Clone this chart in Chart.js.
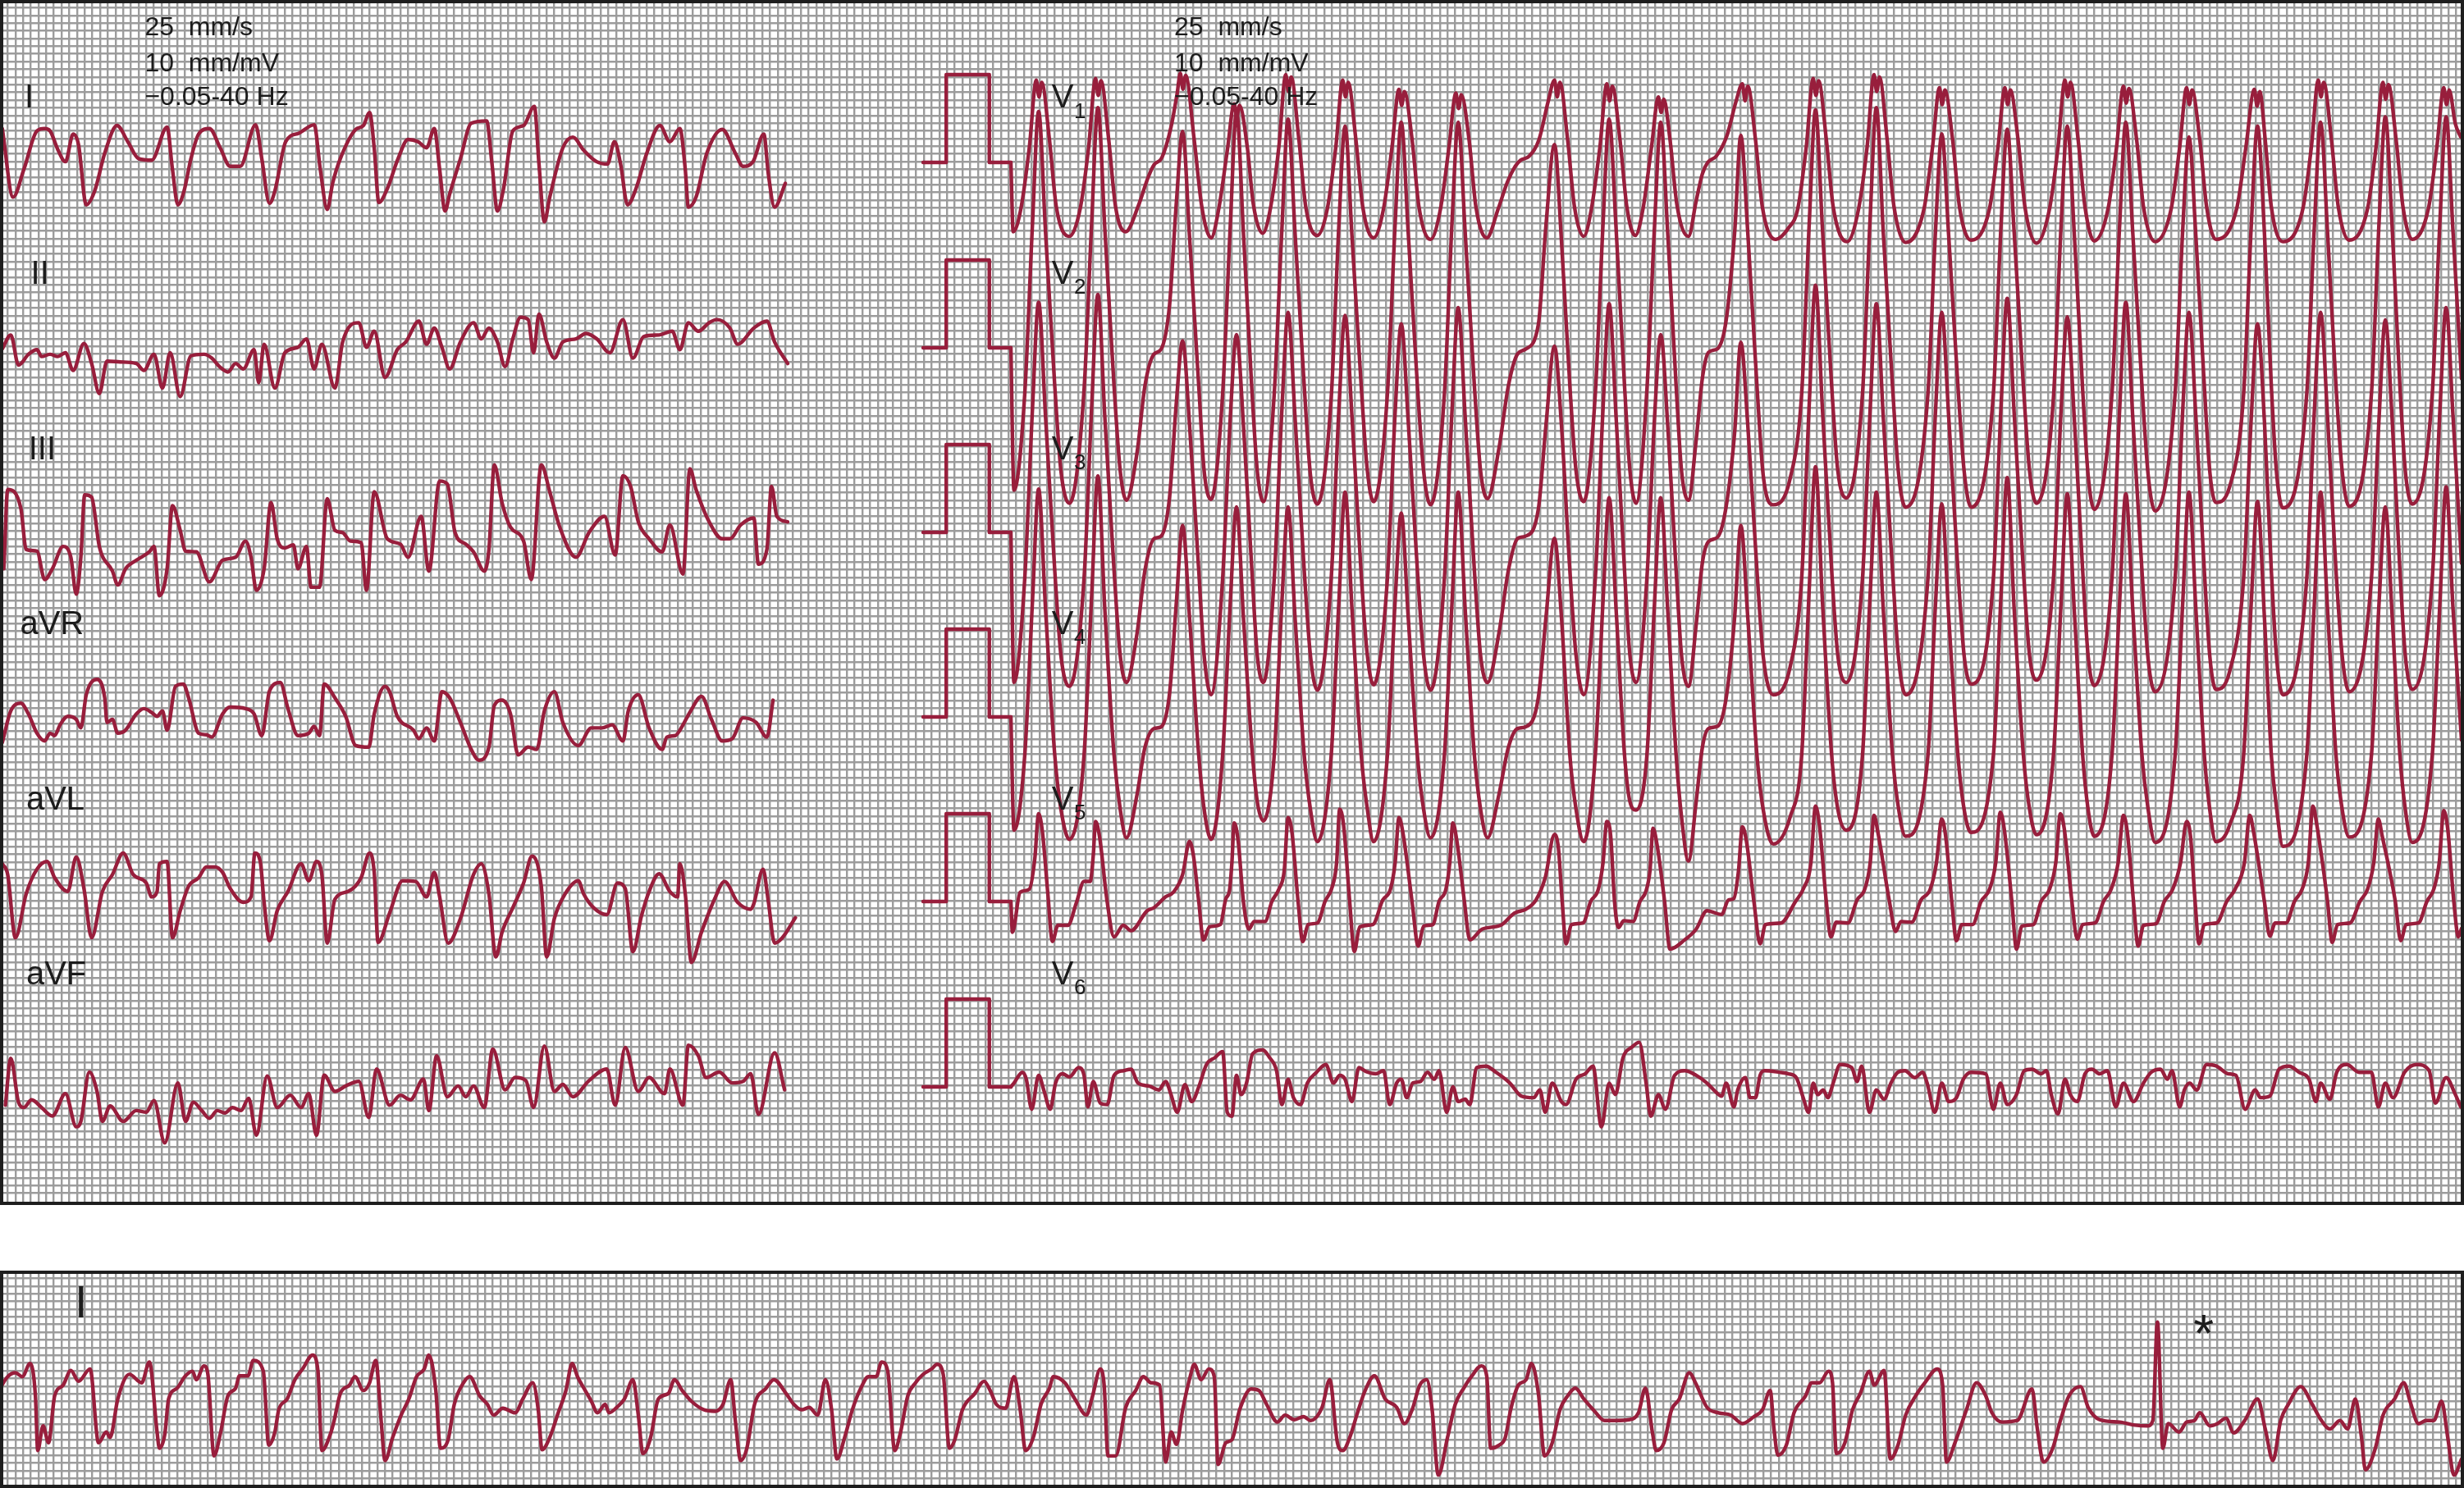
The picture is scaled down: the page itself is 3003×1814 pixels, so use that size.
<!DOCTYPE html>
<html>
<head>
<meta charset="utf-8">
<script src="https://cdn.jsdelivr.net/npm/chart.js@4.4.1/dist/chart.umd.min.js"></script>
<style>
  html, body { margin:0; padding:0; background:#fff; }
  body { width:3003px; height:1814px; position:relative; overflow:hidden; }
  .panel { position:absolute; left:0; width:3003px; }
  .panel canvas { position:absolute; left:0; top:0; }
  .frame { position:absolute; left:0; top:0; right:0; bottom:0; border:4px solid #1e1e1e; box-sizing:border-box; pointer-events:none; }
  #top { top:0; height:1469px; }
  #bottom { top:1549px; height:265px; }
</style>
</head>
<body>
<div class="panel" id="top"><canvas id="ecgTop" width="3003" height="1469"></canvas><div class="frame"></div></div>
<div class="panel" id="bottom"><canvas id="ecgBottom" width="3003" height="265"></canvas><div class="frame"></div></div>
<script>
// values: [time in mm from strip start, deflection in mm]
// 1 small box = 1 mm, speed 25 mm/s

const limbNames = ['I', 'II', 'III', 'aVR', 'aVL', 'aVF']
const chestNames = ['1', '2', '3', '4', '5', '6']
const settings = ['25  mm/s', '10  mm/mV', '\u22120.05-40 Hz']

const leadI = [[0.3,4.6],[1.7,-4.3],[3.1,-0.7],[4.8,4.3],[5.8,4.6],[6.5,4.3],[7.5,1.9],[8.5,0.3],[9.5,3.9],[10.2,2.5],[11.2,-5.3],[12.3,-3.5],[13.6,1.4],[15.2,5.0],[16.6,2.9],[18.0,0.7],[19.7,0.5],[21.7,4.8],[22.4,-0.7],[23.1,-5.3],[23.9,-3.5],[24.8,0.7],[25.8,3.9],[27.2,4.6],[28.6,2.1],[29.9,-0.3],[31.2,-0.3],[33.2,5.1],[34.0,0.7],[35.0,-5.1],[35.7,-3.5],[37.1,2.9],[38.8,4.0],[40.8,5.1],[41.6,-0.7],[42.5,-5.9],[43.2,-2.5],[44.2,0.7],[46.2,4.5],[47.2,5.0],[48.0,6.7],[48.6,2.1],[49.2,-5.0],[50.3,-3.2],[51.7,0.7],[53.0,3.2],[54.3,2.9],[55.4,2.1],[56.4,4.6],[57.1,-0.7],[57.8,-6.1],[58.4,-3.9],[59.8,0.7],[61.2,5.3],[63.2,5.6],[63.9,0],[64.6,-6.1],[65.4,-3.2],[66.6,4.3],[68.0,5.0],[69.4,7.5],[70.0,0],[70.7,-7.5],[71.4,-4.3],[73.1,2.1],[74.4,3.5],[75.8,1.8],[77.5,0.3],[78.9,0],[79.8,2.9],[80.6,0],[81.5,-5.3],[82.6,-3.2],[84.0,1.4],[85.7,5.0],[87.0,2.9],[88.3,4.6],[89.0,-0.7],[89.4,-5.6],[90.4,-4.3],[91.8,1.4],[93.8,4.5],[95.5,1.4],[96.5,-0.3],[97.8,0.3],[99.2,3.9],[99.8,-1.4],[100.6,-5.6],[102.0,-2.5]]

const leadII = [[0.3,0.5],[1.4,2.3],[2.4,-1.6],[3.7,-0.2],[4.8,0.4],[5.4,-0.5],[6.5,-0.2],[7.5,-0.5],[8.5,0],[9.5,-2.3],[10.9,1.2],[11.9,-1.4],[12.9,-5.3],[13.9,-1.1],[15.6,-1.2],[17.7,-1.4],[18.7,-2.3],[20.0,-0.2],[21.1,-4.6],[22.1,0],[23.4,-5.7],[24.8,-0.4],[26.5,-0.2],[27.5,-0.7],[28.5,-1.8],[29.6,-2.5],[30.6,-1.4],[31.6,-2.1],[33.0,0.4],[33.6,-3.9],[34.3,1.1],[35.7,-4.6],[37.0,0],[38.7,0.7],[39.8,1.8],[40.8,-2.1],[41.8,1.1],[43.5,-4.6],[44.5,1.4],[46.6,3.9],[47.6,0.7],[48.6,2.8],[50.0,-3.2],[51.6,0.4],[52.7,1.4],[54.4,4.1],[55.4,1.1],[56.4,3.2],[57.4,0.7],[58.4,-2.1],[59.8,1.4],[61.5,3.9],[62.5,1.8],[63.5,3.2],[64.6,1.4],[65.6,-1.8],[66.6,1.8],[67.6,4.6],[68.6,4.3],[69.3,0],[70.0,5.0],[71.0,1.4],[72.0,-0.7],[73.1,1.4],[74.8,1.8],[76.1,2.5],[77.5,1.8],[79.2,0],[80.9,4.3],[82.2,-0.7],[83.6,2.1],[85.6,2.3],[87.3,2.8],[88.3,0.4],[89.4,3.9],[90.7,2.8],[92.1,3.9],[93.1,4.3],[94.8,3.2],[95.8,1.1],[97.9,3.2],[99.6,4.1],[100.6,1.4],[102.3,-1.4]]

const leadIII = [[0.5,-4.3],[1.0,6.0],[2.7,3.6],[3.4,-1.8],[4.8,-2.0],[5.8,-5.7],[6.8,-4.3],[8.2,-1.4],[9.2,-2.8],[9.9,-7.6],[10.5,-2.8],[11.0,5.3],[11.9,5.0],[12.9,-1.4],[14.6,-4.6],[15.3,-6.4],[16.3,-4.3],[17.7,-3.2],[19.4,-2.1],[20.0,-1.4],[20.7,-7.8],[21.7,-4.3],[22.4,3.9],[23.4,0.7],[24.1,-2.0],[25.5,-2.1],[27.2,-6.0],[28.9,-3.2],[30.6,-2.8],[31.9,-0.7],[32.6,-2.8],[33.3,-7.1],[34.3,-4.3],[35.2,4.3],[36.0,-0.4],[37.0,-1.6],[38.1,-1.2],[38.7,-4.3],[39.8,-1.4],[40.4,-6.7],[41.5,-6.7],[42.5,4.8],[43.5,0.7],[44.5,0.4],[45.5,-0.7],[46.9,-0.9],[47.6,-7.1],[48.6,5.7],[50.3,-0.4],[52.0,-1.1],[53.0,-2.8],[54.7,2.5],[55.7,-4.6],[57.1,7.1],[58.1,6.7],[59.1,0.4],[60.5,-1.1],[61.5,-2.1],[62.9,-4.6],[63.5,-1.8],[64.2,9.2],[65.2,4.3],[66.3,1.1],[68.0,-0.7],[69.0,-5.7],[70.3,9.2],[71.4,5.7],[72.7,1.1],[74.8,-2.8],[76.5,0.4],[78.5,2.5],[79.9,-2.5],[80.9,7.8],[81.9,6.4],[82.9,1.8],[84.3,-0.4],[86.0,-2.1],[87.0,1.4],[88.7,-5.0],[89.6,8.7],[90.4,6.0],[92.1,1.8],[93.8,-0.4],[94.8,-0.4],[96.2,1.4],[97.9,2.3],[98.5,-3.7],[99.6,-1.8],[100.2,6.4],[100.9,2.5],[102.3,1.8]]

const leadAVR = [[0.3,-3.0],[1.4,1.1],[2.7,2.1],[3.7,0.7],[4.8,-1.8],[5.8,-2.8],[6.5,-1.8],[7.1,-2.1],[7.8,-0.7],[8.8,0.4],[9.9,0],[10.5,-1.1],[11.2,3.2],[12.6,5.2],[13.6,2.8],[13.9,-0.4],[14.6,0],[15.3,-1.8],[16.3,-1.4],[17.7,0.7],[18.7,1.4],[19.7,0.9],[20.4,0.4],[21.1,1.1],[21.7,-1.4],[22.8,4.3],[23.8,4.6],[24.5,2.8],[25.8,-1.8],[26.8,-2.0],[27.5,-2.3],[28.9,0.7],[29.9,1.6],[31.9,1.4],[33.0,0.7],[34.0,-2.1],[35.0,3.7],[36.4,4.8],[37.4,1.4],[38.7,-2.1],[40.1,-1.8],[40.8,-0.9],[41.5,-2.1],[42.1,4.6],[43.5,2.8],[44.9,0.4],[46.2,-3.4],[47.9,-3.6],[48.6,0.7],[50.0,4.3],[50.6,3.6],[51.6,0.4],[53.7,-1.4],[54.4,-2.5],[55.4,-1.1],[56.4,-2.8],[57.4,3.6],[58.4,2.8],[59.8,-0.4],[61.2,-3.9],[62.2,-5.3],[63.5,-3.6],[64.2,1.8],[65.2,2.5],[66.3,0.7],[67.3,-4.6],[68.6,-3.6],[69.7,-3.9],[70.7,1.1],[72.0,3.6],[73.1,-0.4],[75.1,-3.4],[76.8,-1.1],[78.2,-1.1],[79.5,-0.7],[80.9,-2.8],[81.6,1.1],[82.9,3.2],[84.3,-1.1],[86.0,-3.9],[86.6,-2.3],[87.7,-2.1],[88.3,-1.4],[89.7,1.1],[91.1,3.0],[92.4,0],[93.8,-2.8],[95.1,-2.5],[96.5,0.2],[98.2,-0.4],[99.6,-2.3],[100.4,2.5]]

const leadAVL = [[0.3,5.0],[1.0,3.6],[2.0,-4.6],[3.4,1.1],[4.8,4.3],[6.1,5.3],[7.1,3.2],[8.8,1.4],[9.9,5.9],[10.9,1.8],[11.9,-4.6],[13.3,1.4],[14.6,3.6],[16.0,6.4],[17.3,3.6],[19.0,2.5],[19.7,0.7],[20.4,1.4],[20.7,5.0],[21.7,5.3],[22.4,-4.6],[23.4,-1.1],[24.5,2.1],[25.8,3.2],[26.8,4.6],[27.9,4.6],[28.9,3.9],[29.9,1.8],[31.6,0],[32.6,0.7],[33.1,6.4],[33.8,5.3],[34.3,0],[35.0,-5.0],[36.0,-1.1],[37.4,1.4],[39.1,5.0],[40.1,2.8],[41.1,5.3],[41.8,3.6],[42.5,-5.3],[43.5,0.4],[45.2,1.4],[46.9,3.2],[48.0,6.4],[48.6,3.9],[49.1,-5.2],[50.6,-1.4],[52.3,2.8],[54.0,2.7],[55.4,0.7],[56.4,3.9],[57.1,0.7],[58.2,-5.3],[59.8,-2.1],[61.5,3.6],[62.5,5.0],[63.5,1.1],[64.4,-7.1],[65.2,-3.9],[66.6,-0.7],[68.0,2.5],[69.1,6.0],[70.3,2.1],[71.0,-7.1],[72.0,-2.1],[73.4,1.1],[75.1,2.8],[75.8,1.1],[77.1,-0.7],[78.8,-1.6],[80.2,2.5],[81.2,1.8],[82.2,-6.4],[83.3,-1.8],[84.3,1.4],[85.6,3.7],[87.0,1.4],[88.0,0.7],[88.3,5.0],[89.0,1.1],[89.8,-7.8],[91.1,-3.9],[92.8,0.4],[94.1,2.7],[95.8,0],[97.5,-0.9],[97.9,-0.2],[99.1,4.3],[99.8,0],[100.6,-5.3],[101.6,-4.6],[103.3,-2.0]]

const leadAVF = [[0.7,-1.1],[1.4,5.0],[2.4,-0.7],[3.1,-1.4],[4.1,-0.4],[5.4,-1.4],[6.8,-2.5],[8.5,0.4],[9.9,-3.9],[10.5,-3.2],[11.6,3.2],[12.6,0.7],[13.3,-3.2],[14.3,-1.2],[16.0,-3.2],[17.7,-1.8],[19.0,-2.0],[20.0,-0.5],[21.4,-6.0],[23.1,1.8],[24.1,-3.2],[25.1,-0.7],[26.2,-1.8],[27.2,-2.8],[28.2,-1.8],[29.2,-2.1],[30.2,-1.4],[31.3,-1.8],[32.3,-0.2],[33.3,-5.0],[34.7,2.7],[36.0,-1.4],[37.7,0.2],[39.1,-1.4],[40.1,0.4],[41.1,-5.0],[42.1,2.8],[43.5,0.7],[44.9,1.4],[46.6,2.0],[47.9,-2.7],[48.9,3.6],[50.6,-1.1],[52.0,0.2],[53.3,-0.4],[55.0,2.3],[55.7,-1.8],[56.7,5.3],[58.1,0],[59.5,1.4],[60.5,0],[61.5,1.4],[62.9,-1.4],[64.0,6.2],[65.6,0.9],[66.9,2.5],[68.3,2.1],[69.3,-1.4],[70.7,6.6],[72.0,0.7],[73.1,1.6],[74.4,0],[76.5,2.1],[78.8,3.6],[79.9,-1.1],[81.2,6.4],[82.9,0.7],[84.3,2.5],[86.3,0.4],[87.0,3.6],[88.7,-1.1],[89.4,6.7],[90.7,5.3],[91.7,2.5],[93.4,3.2],[95.1,1.8],[96.5,2.0],[97.5,3.0],[98.5,-2.3],[100.6,5.7],[101.9,0.9]]

// calibration pulse, mV against mm
const calT = [-11.4, -8.4, -8.4, -2.8, -2.8, 0]
const calMv = [0, 0, 1, 1, 0, 0]

const v1 = [[0,0],[0.3,-9.0],
  [1.3,-6],[2.4,2],[3.3,10.7],[3.65,8.5],[4.0,10.4],[5.0,3],[5.9,-5.8],[7.6,-9.6],
  [9.0,-6],[10.1,2],[11.0,10.9],[11.35,8.7],[11.7,10.6],[12.7,3],[13.6,-5.8],[14.9,-9.0],[16.6,-5.5],[17.8,-2],[18.6,-0.3],[19.6,0.6],
  [20.8,4.6],[21.6,9],[22.0,11.6],[22.35,9.5],[22.7,11.3],[23.8,3],[24.8,-5.8],[26.0,-9.8],
  [27.0,-6],[28.1,1.5],[29.0,7.6],[29.35,6],[29.7,7.4],[30.7,2],[31.5,-5.5],[32.7,-9.2],
  [33.7,-6],[34.8,2],[35.7,11.4],[36.05,9.2],[36.4,11.1],[37.4,3],[38.3,-5.8],[39.8,-9.5],
  [41.1,-6],[42.2,2],[43.1,10.7],[43.45,8.5],[43.8,10.4],[44.8,3],[45.7,-5.8],[47.1,-9.8],
  [48.4,-6],[49.5,2],[50.4,9.5],[50.75,7.4],[51.1,9.2],[52.1,3],[53.0,-5.8],[54.5,-10.0],
  [55.8,-6],[56.9,2],[57.8,9.0],[58.15,7],[58.5,8.8],[59.5,3],[60.4,-5.8],[61.8,-9.8],[63.3,-6],[64.5,-2.5],[65.5,-0.5],[66.2,0.3],[67.3,0.8],
  [68.6,3],[69.8,8],[70.6,10.7],[70.95,8.5],[71.3,10.4],[72.3,3],[73.2,-5.8],[74.4,-9.6],
  [75.4,-6],[76.5,2],[77.4,10.2],[77.75,8],[78.1,9.9],[79.1,3],[80.0,-5.8],[81.1,-9.5],
  [82.1,-6],[83.2,2],[84.1,8.5],[84.45,6.5],[84.8,8.2],[85.6,3],[86.5,-5.5],[88.0,-9.6],[89.0,-5],[89.8,-1.5],[90.5,0],[91.6,0.8],
  [93.0,3.5],[94.2,8],[95.0,10.2],[95.35,8],[95.7,9.9],[96.7,3],[97.6,-5.8],[99.3,-10.0],[101.0,-8.5],
  [102.2,-6],[103.3,2],[104.2,10.9],[104.55,8.7],[104.9,10.6],[105.9,3],[106.8,-5.8],[108.6,-10.3],
  [110.1,-6],[111.2,2],[112.1,11.4],[112.45,9.2],[112.8,11.1],[113.8,3],[114.7,-5.8],[116.2,-10.4],
  [118.6,-6],[119.7,2],[120.6,9.7],[120.95,7.5],[121.3,9.4],[122.3,3],[123.2,-5.8],[124.7,-10.1],
  [127.1,-6],[128.2,2],[129.1,9.7],[129.45,7.5],[129.8,9.4],[130.8,3],[131.7,-5.8],[133.2,-10.5],
  [134.9,-6],[136.0,2],[136.9,10.7],[137.25,8.5],[137.6,10.4],[138.6,3],[139.5,-5.8],[140.7,-10.2],
  [142.5,-6],[143.6,2],[144.5,9.9],[144.85,7.7],[145.2,9.6],[146.2,3],[147.1,-5.8],[148.6,-10.3],
  [150.7,-6],[151.8,2],[152.7,9.7],[153.05,7.5],[153.4,9.4],[154.4,3],[155.3,-5.8],[156.5,-10.0],
  [159.2,-6],[160.4,2],[161.5,9.5],[161.85,7.3],[162.2,9.2],[162.9,3],[163.7,-5.8],[165.2,-10.3],
  [167.8,-6],[168.9,2],[169.8,10.7],[170.15,8.5],[170.5,10.4],[171.5,3],[172.4,-5.8],[173.8,-10.1],
  [176.2,-6],[177.3,2],[178.2,10.4],[178.55,8.2],[178.9,10.1],[179.9,3],[180.8,-5.8],[182.0,-10.0],
  [184.1,-6],[185.2,2],[186.1,9.7],[186.45,7.5],[186.8,9.4],[187.6,5],[188.3,3.3]]

// V2-V4 were sampled at the same instants
const vTimes = [0,0.4,
  1.8,2.8,3.6,4.5,5.7,6.5,7.6,
  9.5,10.5,11.3,12.2,13.4,14.2,15.0,16.4,17.4,18.6,19.5,20.6,
  21.5,22.3,23.2,24.4,25.1,26.0,
  27.5,28.5,29.3,30.2,31.3,32.0,32.8,
  34.2,35.2,36.0,36.9,38.1,38.9,39.8,
  41.6,42.6,43.4,44.3,45.5,46.3,47.1,
  48.9,49.9,50.7,51.6,52.8,53.6,54.5,
  56.3,57.3,58.1,59.0,60.2,61.0,61.9,63.4,64.6,65.8,66.8,68.5,
  69.5,70.6,71.5,72.6,73.4,74.4,
  75.9,76.9,77.7,78.6,79.7,80.4,81.2,
  82.6,83.6,84.4,85.3,86.4,87.1,88.0,89.0,89.8,90.6,91.8,92.9,
  94.0,94.8,95.7,96.9,97.7,99.0,101.2,
  102.7,103.7,104.5,105.4,106.6,107.4,108.5,
  110.6,111.6,112.4,113.3,114.5,115.3,116.2,
  119.1,120.1,120.9,121.8,123.0,123.8,124.7,
  127.6,128.6,129.4,130.3,131.5,132.3,133.2,
  135.4,136.4,137.2,138.1,139.2,139.9,140.7,
  143.0,144.0,144.8,145.7,146.9,147.7,148.6,
  151.2,152.2,153.0,153.9,155.0,155.7,156.5,158.3,
  160.1,161.1,161.9,162.8,163.7,164.4,165.2,
  168.3,169.3,170.1,171.0,172.1,172.9,173.8,
  176.7,177.7,178.5,179.4,180.4,181.1,182.0,
  184.6,185.6,186.4,187.3,188.4]

const v2 = [0,-18.5,
  -6,16,30.7,15,-5,-16,-20.2,
  -5.5,16.5,31.2,15.5,-5,-16,-19.8,-13.5,-5,-0.8,-0.2,5.5,
  19,28.1,14.5,-5,-16,-19.7,
  -6,16,30.7,15,-5.5,-16,-20.0,
  -6,15.5,29.7,15,-5,-16.5,-20.3,
  -6.5,16,28.8,14.5,-5,-16,-20.0,
  -6,16,29.3,15,-5,-16,-20.4,
  -6,16.5,29.3,15,-5,-16,-19.6,-13,-5,-0.8,-0.2,3,
  16,26.4,14,-5,-16,-20.0,
  -6,16,29.7,15.5,-5,-16,-20.2,
  -5.5,16,29.3,15,-5,-16,-19.8,-12,-4,-0.6,-0.1,3.6,
  15,27.6,15,-5,-16.5,-20.4,-17,
  -6,16.5,30.9,15.5,-5,-16,-19.5,
  -6,17,31.2,15,-5,-16.5,-20.7,
  -6,15.5,27.8,14.5,-5,-16,-20.7,
  -6,16,28.4,15,-5,-16,-20.2,
  -6.5,16,28.8,15,-5.5,-16.5,-21.0,
  -6,16,29.3,15,-5,-16.5,-21.2,
  -6,15.5,27.4,14.5,-5,-16,-20.1,-18,
  -6,16,28.8,15,-5,-16.5,-20.8,
  -6,16,29.3,15,-5,-16,-20.6,
  -6,16.5,30.0,15.5,-5,-16,-20.3,
  -6,16.5,30.0,15,-4]

const v3 = [0,-19.5,
  -6,16,29.9,15,-5,-16,-20.0,
  -6,16.5,30.9,15,-5,-16,-19.5,-13,-5,-0.8,-0.5,4.5,
  17,24.9,14,-5,-16,-21.1,
  -6,15,25.7,14,-5,-16,-19.5,
  -6,16,28.6,15,-5,-16,-20.5,
  -6,16,28.2,15,-5.5,-16,-19.8,
  -6,15.5,27.1,14.5,-5,-16,-20.5,
  -6,16,29.2,15,-5,-16,-19.5,-13,-5,-0.8,-0.5,3,
  14,24.2,14,-5,-16,-21.1,
  -6,16,29.7,15,-5,-16,-19.5,
  -6,15,25.7,14,-5,-16,-20.0,-12,-4,-1.2,-0.6,3.4,
  13,24.7,14,-5,-16,-21.1,-17.5,
  -6,17,32.1,16,-5,-16,-19.5,
  -6,16,29.7,15,-5,-16.5,-21.1,
  -6,16,28.6,15,-5,-16,-19.7,
  -6,16.5,30.4,15.5,-5,-16,-19.2,
  -6,16,28.0,15,-5,-16,-19.9,
  -6,16,29.9,15,-5,-16.5,-20.7,
  -6,16,28.6,15,-5,-16,-20.4,-18,
  -6,15,27.1,14.5,-5,-16.5,-21.1,
  -6,16,28.6,15,-5,-16,-20.7,
  -6,15,27.6,14.5,-5,-16,-20.4,
  -6,16,29.2,15,-4]

const v4 = [0,-14.7,
  -5,15,29.6,14,-5,-12,-15.9,
  -5,16,31.3,14,-5,-12,-15.7,-10,-4,-1.5,-1.3,3,
  15,24.9,13,-5,-12,-15.9,
  -5,15,27.3,13,-4,-11,-13.5,
  -5,15,27.3,13,-5,-12,-16.2,
  -5,15,29.2,14,-5,-12,-16.2,
  -5,15,26.5,13,-5,-12,-15.7,
  -5,15,29.2,14,-5,-12,-15.7,-10,-4,-1.5,-1.3,2.5,
  13,23.2,13,-5,-12,-16.2,
  -5,15,28.5,14,-5,-11,-12.1,
  -5,15,28.5,14,-5,-13,-18.7,-11,-4,-1.5,-1.2,2.5,
  13,24.9,13,-5,-12,-16.5,-13,
  -5,17,32.5,15,-5,-12,-14.7,
  -5,16,29.2,14,-5,-12,-15.5,
  -5,15,27.7,13,-5,-12,-15.0,
  -5,16,31.1,14,-5,-12,-15.3,
  -5,15,29.0,14,-5,-12,-15.5,
  -5,15,29.0,14,-5,-12,-16.3,
  -5,15,29.2,14,-5,-12,-16.2,-14,
  -5,15,28.0,13,-5,-12,-16.8,
  -5,15,29.2,14,-5,-12,-15.6,
  -5,15,27.3,13,-5,-12,-16.3,
  -5,15,29.9,14,-3]

const v5 = [[0,0],[0.2,-4.0],[1.2,1.2],[2.4,1.6],[3.1,5.5],
  [3.6,11.4],[4.1,9.0],[4.8,1.0],[5.4,-5.2],[6.1,-3.1],[7.4,-3.1],[8.5,-0.2],[9.5,2.6],[10.3,2.6],[10.7,6],
  [11.0,10.4],[11.5,8.5],[12.5,0],[13.4,-4.6],[14.6,-3.1],[15.6,-3.8],[17.7,-1.2],[18.6,-0.8],[20.1,0.6],[21.1,1.2],[22.3,3.5],
  [23.2,7.8],[23.7,6],[24.4,0],[25.0,-5.0],[25.8,-3.3],[27.2,-3.0],[27.9,0.3],[28.4,1.5],[28.7,5],
  [29.0,10.2],[29.5,8],[30.2,0],[30.9,-3.6],[31.6,-2.6],[33.0,-2.6],[33.9,0],[34.8,1.6],[35.5,4],
  [36.0,10.9],[36.5,9],[37.3,0],[37.9,-5.2],[38.6,-3.0],[39.8,-2.8],[40.8,0],[41.7,1.8],[42.3,5],
  [42.7,12.0],[43.2,10],[44.0,0],[44.6,-6.5],[45.3,-3.3],[47.0,-3.0],[48.3,0.2],[49.3,1.6],[49.9,5],
  [50.4,10.9],[50.9,9],[52.1,0],[52.9,-5.8],[53.6,-3.2],[54.8,-3.0],[55.6,0],[56.5,1.6],[57.0,5],
  [57.4,10.2],[57.9,8],[58.9,0],[59.6,-5.0],[61.2,-3.6],[63.6,-3.1],[65.4,-1.5],[66.9,-1.0],[68.2,0.2],[69.4,3.1],
  [70.6,8.7],[71.1,7],[71.6,0],[72.1,-5.5],[72.8,-3.0],[74.3,-2.8],[75.3,0],[76.3,1.6],[76.9,5],
  [77.4,10.4],[77.9,8.5],[78.4,0],[78.9,-3.4],[79.6,-2.5],[80.8,-2.6],[81.7,0],[82.5,1.4],[83.0,4],
  [83.4,9.5],[83.9,7.5],[84.9,0],[85.6,-6.2],[87.5,-5.0],[89.0,-3.6],[90.4,-1.2],[92.3,-1.7],[93.2,0.2],[93.9,0.4],[94.5,4],
  [95.0,9.7],[95.5,8],[96.5,0],[97.3,-5.5],[98.0,-3.0],[100.0,-2.8],[101.9,0],[102.9,1.6],[103.9,5],
  [104.5,12.4],[105.0,10],[105.9,0],[106.5,-4.6],[107.2,-2.7],[108.7,-2.8],[109.9,0.2],[110.9,1.6],[111.6,5],
  [112.1,11.2],[112.6,9],[114.1,0],[114.9,-3.9],[115.6,-2.6],[117.0,-2.7],[118.2,0.2],[119.4,1.6],[120.2,5],
  [120.9,10.7],[121.4,8.5],[122.2,0],[122.8,-5.1],[123.5,-3.0],[124.9,-3.0],[126.0,0],[127.1,1.6],[127.9,5],
  [128.5,11.6],[129.0,9.5],[130.0,0],[130.6,-6.2],[131.3,-3.2],[132.8,-3.0],[133.8,0],[134.9,1.6],[135.7,5],
  [136.3,11.4],[136.8,9.5],[137.8,0],[138.5,-4.9],[139.2,-3.0],[140.8,-2.8],[141.9,0],[142.9,1.6],[143.8,5],
  [144.5,11.2],[145.0,9],[145.8,0],[146.4,-5.8],[147.1,-3.1],[148.7,-2.9],[149.8,0],[150.9,1.6],[151.9,5],
  [152.7,10.4],[153.2,8.5],[153.8,0],[154.3,-5.5],[155.0,-3.0],[156.6,-2.8],[157.9,0],[159.0,1.6],[160.2,5],
  [160.9,11.2],[161.4,9],[162.8,0],[163.5,-4.5],[164.2,-2.8],[165.6,-2.8],[166.7,0],[167.7,1.6],[168.5,5],
  [169.1,12.4],[169.6,10],[171.0,0],[171.6,-5.3],[172.3,-3.0],[173.9,-2.8],[175.2,0],[176.2,1.6],[177.0,5],
  [177.6,10.7],[178.1,8.5],[179.8,0],[180.5,-5.1],[181.2,-3.0],[182.8,-2.8],[183.9,0],[184.8,1.6],[185.5,5],
  [186.1,11.8],[186.6,9.5],[187.4,0],[188.0,-4.6],[188.4,-3.5]]

const v6 = [[0,0],[0.4,0.5],[1.5,1.9],[2.0,1.0],[2.7,-2.9],[3.6,1.5],[4.3,-0.5],[5.1,-2.9],[5.8,0.5],[6.7,1.7],[7.6,1.3],[8.8,2.5],[9.5,1.5],[10.0,-2.6],[10.7,0.7],[11.6,-2.1],[12.5,-2.3],[13.4,1.5],[14.6,2.1],[15.6,2.3],[16.5,0.5],[18.0,0.1],[19.2,-0.4],[20.1,0.7],[20.8,-1.0],[21.6,-3.3],[22.6,0.3],[23.5,-1.9],[24.4,0],[25.4,2.9],[26.5,3.8],[27.5,4.6],[28.1,-3.3],[28.7,-3.8],[29.3,1.5],[29.9,-1.0],[30.6,0.5],[31.4,4.3],[32.7,4.8],[33.6,3.8],[34.5,2.1],[35.2,-2.3],[36.0,1.0],[36.7,-1.4],[37.6,-2.3],[38.5,0.5],[39.7,1.9],[40.9,2.9],[41.9,0.5],[42.7,1.5],[43.4,1.0],[44.3,-1.9],[45.2,2.5],[46.1,2.0],[47.4,1.7],[48.4,2.1],[49.2,-2.3],[50.1,0.5],[50.7,1.0],[51.4,-1.4],[52.2,0.5],[53.2,0.7],[54.1,1.9],[55.0,1.0],[55.6,2.1],[56.6,-3.3],[57.4,0],[58.1,-1.9],[59.0,-1.6],[59.6,-2.3],[60.5,2.5],[61.7,2.7],[63.0,1.9],[64.8,0.5],[66.3,-1.2],[67.9,-1.4],[68.7,-0.4],[69.4,-3.3],[70.3,0.5],[71.5,-1.9],[72.1,-2.3],[73.4,1.0],[74.6,1.7],[75.6,2.7],[76.7,-5.2],[77.7,0.5],[78.5,-1.0],[79.5,3.8],[80.7,5.2],[81.6,5.8],[82.5,0.5],[83.1,-3.8],[84.1,-1.0],[85.0,-2.9],[86.2,1.5],[87.5,2.1],[89.0,1.5],[90.4,0.5],[91.3,-0.4],[92.3,-1.2],[92.9,0.5],[93.9,-2.6],[94.4,-0.4],[95.4,1.2],[96.0,-1.4],[96.7,-1.4],[97.3,1.5],[97.9,2.1],[99.8,1.9],[101.0,1.7],[102.0,1.2],[102.9,-1.4],[103.6,-3.3],[104.2,0.5],[104.8,-1.0],[105.5,-0.4],[106.1,-1.4],[106.8,0.5],[107.7,2.9],[109.2,2.5],[109.9,0.7],[110.5,2.7],[111.5,-3.3],[112.4,-0.4],[113.4,-1.6],[114.3,0.5],[115.2,1.9],[116.1,2.1],[117.4,1.2],[118.4,1.9],[119.0,0.5],[120.0,-3.3],[120.9,0.5],[121.8,-1.9],[122.8,-1.4],[123.7,1.0],[124.7,1.9],[126.6,1.7],[127.6,-2.9],[128.5,0.5],[129.4,-2.3],[130.6,-1.0],[131.6,2.1],[132.6,2.3],[133.8,1.7],[134.5,2.1],[135.1,-0.9],[136.0,-3.5],[136.9,1.0],[137.6,-1.0],[138.5,-1.9],[139.5,1.7],[140.4,2.3],[141.4,1.7],[142.4,2.1],[143.5,-2.6],[144.5,0.5],[145.8,-1.9],[147.1,0.5],[148.1,1.9],[149.3,2.3],[150.2,1.0],[150.8,2.1],[151.8,-2.6],[152.4,-0.4],[153.1,0.5],[154.0,-0.4],[155.3,2.9],[156.6,2.7],[158.1,1.7],[159.1,1.5],[160.3,-2.9],[161.6,-0.4],[162.3,-1.4],[163.5,-1.2],[164.7,2.3],[166.0,2.7],[167.3,1.9],[168.6,1.0],[169.5,-1.9],[170.1,0.5],[171.3,-1.6],[172.2,1.9],[173.5,2.9],[175.1,1.9],[176.7,1.9],[177.6,-2.6],[178.5,0.5],[179.5,-1.4],[181.0,1.9],[182.6,2.9],[184.2,2.1],[185.0,-2.1],[186.4,1.2],[187.6,-1.0],[188.3,-2.6]]

// rhythm strip, lead I
const rhythmI = [[0.0,2.1],[1.0,3.6],[2.0,4.1],[2.9,3.6],[3.9,5.3],[4.6,1.1],[4.9,-6.0],[5.6,-2.8],[6.3,-5.0],[7.1,1.1],[8.2,2.5],[9.2,4.4],[10.2,3.0],[11.7,4.6],[12.8,-5.0],[13.8,-3.6],[14.3,-4.3],[15.3,0.7],[16.8,3.9],[18.4,2.8],[19.4,5.5],[20.4,-3.6],[20.7,-5.7],[21.4,-3.9],[21.9,0.7],[23.0,2.1],[24.0,3.6],[25.0,4.3],[25.5,3.2],[26.5,5.0],[27.0,3.9],[27.8,-6.7],[28.6,-3.9],[29.6,1.1],[30.6,2.1],[31.1,3.7],[32.2,3.7],[32.9,5.7],[34.2,4.3],[34.9,-5.3],[35.7,-3.6],[36.2,-0.7],[37.3,0.7],[38.3,3.2],[39.3,4.6],[40.6,6.4],[41.3,4.3],[41.8,-6.0],[42.9,-3.9],[43.4,-2.1],[44.2,1.4],[45.4,2.5],[46.1,3.6],[47.2,1.8],[48.0,2.8],[48.8,5.7],[49.5,-2.1],[50.0,-7.3],[51.0,-4.3],[52.1,-1.4],[53.1,0.7],[54.1,3.6],[55.1,4.6],[55.7,6.4],[56.6,1.8],[57.2,-5.7],[58.2,-4.6],[59.0,0],[60.2,2.8],[61.0,3.6],[62.3,1.1],[63.3,0],[64.1,-1.4],[65.3,-0.5],[66.9,-1.1],[67.9,0.7],[69.2,2.8],[69.9,-0.7],[70.4,-5.9],[71.4,-4.3],[72.5,-1.1],[73.5,1.8],[74.3,5.3],[75.0,3.6],[76.0,1.8],[76.8,0.4],[77.6,-1.1],[78.6,0],[79.1,-1.1],[80.1,-0.4],[81.1,0.7],[82.2,3.2],[82.9,-1.4],[83.5,-6.4],[84.5,-4.3],[85.5,0.7],[86.8,1.4],[87.6,3.2],[88.6,1.8],[89.8,0.4],[91.4,-0.7],[92.9,-0.9],[93.9,0],[94.9,3.2],[95.5,-2.1],[96.2,-7.3],[97.0,-5.7],[98.0,0],[99.5,2.1],[100.5,3.2],[102.1,1.4],[103.1,0],[104.1,-0.7],[105.1,-0.4],[106.2,-1.4],[107.2,3.2],[108.0,-0.7],[108.7,-7.1],[109.7,-4.3],[110.7,-0.7],[111.8,2.1],[112.8,3.6],[113.8,3.6],[114.5,5.5],[115.3,4.3],[116.2,-6.0],[116.9,-3.9],[117.9,1.1],[118.9,2.8],[119.9,3.9],[121.0,4.6],[121.7,5.2],[122.5,3.9],[123.3,-5.7],[124.0,-4.6],[125.0,-0.7],[126.6,1.4],[127.8,3.0],[128.6,1.8],[129.4,0],[130.6,-0.5],[131.7,3.6],[132.5,-0.7],[133.2,-6.0],[134.2,-4.3],[135.2,0],[136.3,2.1],[136.8,3.6],[138.3,2.8],[139.6,0.7],[141.1,-1.4],[141.9,1.1],[142.9,4.6],[143.4,2.5],[143.9,-6.7],[144.9,-6.7],[146.2,-0.4],[147.5,1.8],[148.5,3.6],[149.5,2.8],[150.6,2.5],[151.4,-7.5],[152.1,-3.6],[152.8,-5.2],[153.6,-0.7],[154.6,3.7],[155.1,5.2],[156.0,3.2],[157.0,4.6],[157.7,3.6],[158.2,-7.8],[159.2,-5.0],
  [160.0,-4.6],[161.0,-0.7],[162.5,2.0],[163.5,1.8],[164.5,0],[165.9,-2.3],[166.9,-1.4],[168.1,-2.0],[169.3,-1.6],[170.2,-2.1],[171.7,-0.4],[172.7,3.2],[173.7,-5.0],[174.4,-6.0],[175.3,-4.3],[176.3,-1.1],[177.3,1.8],[178.5,3.7],[179.9,0.7],[181.4,-0.4],[182.4,-2.5],[183.4,-0.7],[184.4,2.5],[185.3,3.2],[186.0,-0.7],[186.8,-9.2],[188.0,-4.3],[189.0,0],[190.1,2.1],[191.1,3.6],[192.4,5.0],[193.1,3.6],[193.6,-5.7],[194.7,-5.3],[195.5,-4.3],[196.2,-0.7],[197.2,2.5],[198.2,3.2],[198.9,5.3],[199.8,1.4],[200.6,-6.7],[201.6,-5.0],[202.6,-0.7],[203.6,1.1],[204.6,2.1],[205.7,0.7],[207.1,-0.9],[208.4,-2.1],[209.9,-2.1],[211.5,-2.0],[212.8,-1.1],[213.7,2.1],[214.6,-3.6],[215.1,-6.0],[216.1,-5.0],[217.1,-0.7],[218.1,0.7],[219.4,4.1],[220.2,2.8],[221.7,-0.4],[223.2,-1.1],[224.8,-1.4],[226.3,-2.5],[227.8,-1.6],[228.9,-0.7],[229.9,1.8],[230.4,-3.2],[230.9,-6.6],[232.0,-5.3],[233.0,-1.1],[234.5,1.1],[235.3,2.8],[236.3,2.8],[237.5,4.3],[238.0,2.8],[238.5,-6.4],[239.6,-5.0],[240.6,-0.7],[241.6,1.4],[242.8,4.3],[243.4,2.5],[244.7,4.4],[245.5,-7.1],[246.5,-5.3],[247.5,-1.4],[248.8,1.1],[250.0,2.8],[251.6,4.6],[252.3,2.5],[252.8,-7.5],[253.9,-5.0],[255.4,-0.7],[256.7,2.8],[257.9,1.1],[258.7,-1.1],[260.0,-2.3],[262.0,-2.1],[263.9,2.0],[264.6,-3.2],[265.4,-7.5],[266.6,-5.7],[267.6,-2.1],[268.7,1.1],[270.2,2.3],[271.2,-0.4],[272.7,-2.0],[275.3,-2.3],[277.3,-2.7],[278.9,-2.8],[279.6,-2.1],[280.2,10.7],[280.9,-5.7],[281.6,-2.5],[283.0,-3.6],[284.0,-2.3],[285.0,-2.1],[285.7,-1.1],[287.0,-2.8],[288.0,-2.5],[289.1,-1.8],[290.1,-3.7],[291.6,-2.0],[293.2,0.7],[294.2,-3.2],[295.2,-7.3],[296.2,-2.1],[297.2,0],[298.8,2.3],[300.3,0],[301.3,-1.8],[302.6,-3.2],[303.9,-2.1],[304.9,-3.2],[305.9,0.7],[306.7,-4.3],[307.2,-8.5],[308.5,-5.7],[309.5,-1.4],[311.0,0.7],[312.2,2.8],[313.0,0.4],[314.1,-2.5],[315.1,-2.1],[316.1,-2.1],[317.1,0.4],[317.9,-4.3],[318.7,-9.2],[319.7,-7.1]]

// ---- layout (mm on the paper, measured from each panel's top-left)
const MM_PX = 9.384
const GAIN = 11.4          // mm drawn for 1 mV in this tracing
const INK = '#981e3c'
const limbBase = [21.31, 45.82, 69.59, 93.46, 117.22, 142.48]
const chestBase = [21.10, 45.18, 69.16, 93.14, 117.11, 141.20]
const chestX0 = 131.29
const rhythmBase = 17.37
const labelY = [14.0, 36.9, 59.7, 82.4, 105.2, 127.9]
const limbLabelX = [3.2, 4.0, 3.7, 2.6, 3.4, 3.4]

const chestSets = [
  v1,
  vTimes.map((t, i) => [t, v2[i]]),
  vTimes.map((t, i) => [t, v3[i]]),
  vTimes.map((t, i) => [t, v4[i]]),
  v5,
  v6
]
if (v2.length !== vTimes.length || v3.length !== vTimes.length || v4.length !== vTimes.length) {
  throw new Error('chest arrays ' + vTimes.length + ' ' + v2.length + ' ' + v3.length + ' ' + v4.length)
}

function place(points, x0, base) {
  return points.map(p => ({x: x0 + p[0], y: -base + p[1]}))
}

function traceSet(data, smooth) {
  return {
    data,
    showLine: true,
    borderColor: INK,
    borderWidth: 4.4,
    borderJoinStyle: 'round',
    borderCapStyle: 'round',
    pointRadius: 0,
    cubicInterpolationMode: smooth ? 'monotone' : 'default',
    tension: 0
  }
}

function paperScales(w, h) {
  const grid = {color: '#9c9c9c', lineWidth: 2.4, drawTicks: false}
  const ticks = {stepSize: 1, display: false, autoSkip: false}
  return {
    x: {type: 'linear', min: 0, max: w / MM_PX, ticks, grid, border: {display: false}},
    y: {type: 'linear', min: -h / MM_PX, max: 0, ticks, grid, border: {display: false}}
  }
}

const paperText = {
  id: 'paperText',
  afterDatasetsDraw(chart, args, opts) {
    const ctx = chart.ctx
    const sx = chart.scales.x, sy = chart.scales.y
    ctx.save()
    ctx.fillStyle = '#1c1c1c'
    ctx.textBaseline = 'alphabetic'
    for (const t of opts.items) {
      ctx.font = t.size + 'px "Liberation Sans", Arial, sans-serif'
      ctx.textAlign = t.align || 'left'
      ctx.fillText(t.text, sx.getPixelForValue(t.x), sy.getPixelForValue(-t.y))
    }
    ctx.restore()
  }
}

function drawPaper(id, datasets, w, h, items) {
  return new Chart(document.getElementById(id), {
    type: 'scatter',
    data: {datasets},
    options: {
      responsive: false,
      animation: false,
      devicePixelRatio: 1,
      events: [],
      layout: {padding: 0},
      plugins: {legend: {display: false}, tooltip: {enabled: false}, paperText: {items}},
      scales: paperScales(w, h)
    },
    plugins: [paperText]
  })
}

// top panel: six limb leads on the left, six chest leads on the right
const topSets = []
const limbData = [leadI, leadII, leadIII, leadAVR, leadAVL, leadAVF]
limbData.forEach((d, i) => topSets.push(traceSet(place(d, 0, limbBase[i]), true)))
const calPoints = calT.map((t, i) => [t, calMv[i] * GAIN])
chestSets.forEach((d, i) => {
  topSets.push(traceSet(place(calPoints, chestX0, chestBase[i]), false))
  topSets.push(traceSet(place(d, chestX0, chestBase[i]), true))
})

const topItems = []
;[18.8, 152.5].forEach(x => {
  settings.forEach((s, i) => topItems.push({text: s, x, y: [4.6, 9.3, 13.6][i], size: 32}))
})
limbNames.forEach((n, i) => topItems.push({text: n, x: limbLabelX[i], y: labelY[i], size: 40}))
chestNames.forEach((n, i) => {
  topItems.push({text: 'V', x: 136.6, y: labelY[i], size: 40})
  topItems.push({text: n, x: 139.5, y: labelY[i] + 1.3, size: 26})
})

drawPaper('ecgTop', topSets, 3003, 1469, topItems)

// bottom panel: long lead I rhythm strip
drawPaper('ecgBottom', [traceSet(place(rhythmI, 0, rhythmBase), true)], 3003, 265, [
  {text: 'I', x: 9.7, y: 6.1, size: 56},
  {text: '*', x: 286.2, y: 10.6, size: 64, align: 'center'}
])
</script>
</body>
</html>
